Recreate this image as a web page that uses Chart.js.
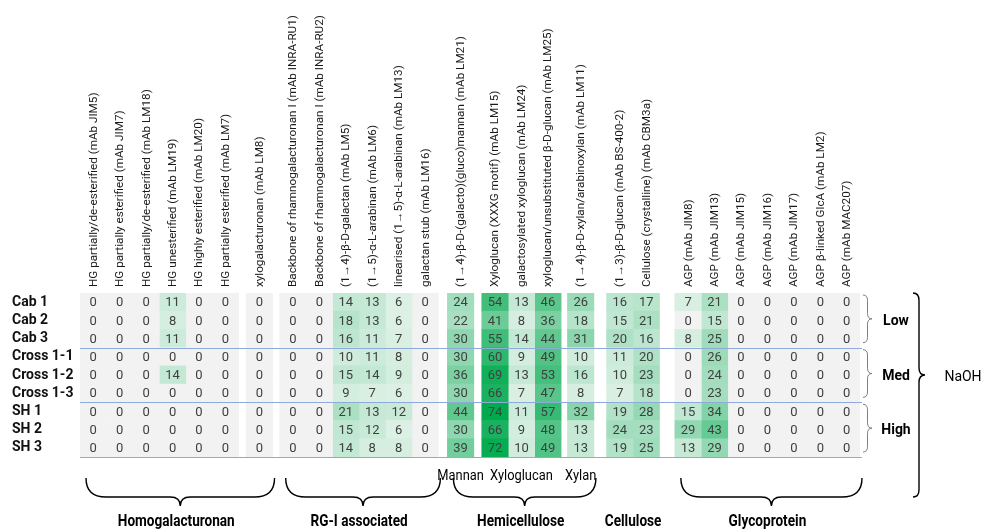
<!DOCTYPE html>
<html><head><meta charset="utf-8">
<script src="https://cdn.jsdelivr.net/npm/chart.js@4/dist/chart.umd.min.js"></script>
<style>html,body{margin:0;padding:0;background:#fff}#wrap{width:984px;height:532px;position:relative}</style>
</head><body><div id="wrap"><canvas id="c" width="984" height="532"></canvas></div>
<script>
// ---------------- data ----------------
const antibodies = [
  'HG partially/de-esterified (mAb JIM5)',
  'HG partially esterified (mAb JIM7)',
  'HG partially/de-esterified (mAb LM18)',
  'HG unesterified (mAb LM19)',
  'HG highly esterified (mAb LM20)',
  'HG partially esterified (mAb LM7)',
  'xylogalacturonan (mAb LM8)',
  'Backbone of rhamnogalacturonan I (mAb INRA-RU1)',
  'Backbone of rhamnogalacturonan I (mAb INRA-RU2)',
  '(1→4)-β-D-galactan (mAb LM5)',
  '(1→5)-α-L-arabinan (mAb LM6)',
  'linearised (1→5)-α-L-arabinan (mAb LM13)',
  'galactan stub (mAb LM16)',
  '(1→4)-β-D-(galacto)(gluco)mannan (mAb LM21)',
  'Xyloglucan (XXXG motif) (mAb LM15)',
  'galactosylated xyloglucan (mAb LM24)',
  'xyloglucan/unsubstituted β-D-glucan (mAb LM25)',
  '(1→4)-β-D-xylan/arabinoxylan (mAb LM11)',
  '(1→3)-β-D-glucan (mAb BS-400-2)',
  'Cellulose (crystalline) (mAb CBM3a)',
  'AGP (mAb JIM8)',
  'AGP (mAb JIM13)',
  'AGP (mAb JIM15)',
  'AGP (mAb JIM16)',
  'AGP (mAb JIM17)',
  'AGP β-linked GlcA (mAb LM2)',
  'AGP (mAb MAC207)'
];
const samples = ['Cab 1','Cab 2','Cab 3','Cross 1-1','Cross 1-2','Cross 1-3','SH 1','SH 2','SH 3'];

const cab1   = [0,0,0,11,0,0, 0, 0,0,14,13,6,0, 24, 54,13,46, 26, 16,17, 7,21,0,0,0,0,0];
const cab2   = [0,0,0, 8,0,0, 0, 0,0,18,13,6,0, 22, 41, 8,36, 18, 15,21, 0,15,0,0,0,0,0];
const cab3   = [0,0,0,11,0,0, 0, 0,0,16,11,7,0, 30, 55,14,44, 31, 20,16, 8,25,0,0,0,0,0];
const cross1 = [0,0,0, 0,0,0, 0, 0,0,10,11,8,0, 30, 60, 9,49, 10, 11,20, 0,26,0,0,0,0,0];
const cross2 = [0,0,0,14,0,0, 0, 0,0,15,14,9,0, 36, 69,13,53, 16, 10,23, 0,24,0,0,0,0,0];
const cross3 = [0,0,0, 0,0,0, 0, 0,0, 9, 7,6,0, 30, 66, 7,47,  8,  7,18, 0,23,0,0,0,0,0];
const sh1    = [0,0,0, 0,0,0, 0, 0,0,21,13,12,0, 44, 74,11,57, 32, 19,28, 15,34,0,0,0,0,0];
const sh2    = [0,0,0, 0,0,0, 0, 0,0,15,12,6,0, 30, 66, 9,48, 13, 24,23, 29,43,0,0,0,0,0];
const sh3    = [0,0,0, 0,0,0, 0, 0,0,14, 8,8,0, 39, 72,10,49, 13, 19,25, 13,29,0,0,0,0,0];
const rows = [cab1,cab2,cab3,cross1,cross2,cross3,sh1,sh2,sh3];

const blockSizes = [6,1,6,1,3,1,2,7];          // antibody blocks separated by white gaps
const polymerClasses = ['Homogalacturonan','RG-I associated','Hemicellulose','Cellulose','Glycoprotein'];
const classSizes = [7,6,5,2,7];
const classBrace = [true,true,true,false,true];
const hemiTypes = ['Mannan','Xyloglucan','Xylan'];
const hemiSizes = [1,3,1];
const naohLevels = ['Low','Med','High'];
const levelSizes = [3,3,3];
const treatment = 'NaOH';

// ---------------- layout / style ----------------
const BLOCK_GAPS = [0.28,0.27,0.34,0.3,0.24,0.48,0.58];
const colPos = [];
(function(){ let idx=0, off=0; blockSizes.forEach((n,b)=>{ for(let k=0;k<n;k++){ colPos.push(idx+off); idx++; } off += (BLOCK_GAPS[b]||0); }); })();
const VMAX = Math.max(...rows.flat());
function cellColor(v){
  if(!v) return '#f2f2f2';
  const t = v/VMAX, a=[240,246,242], b=[0,170,78];
  const c = a.map((s,i)=>Math.round(s+(b[i]-s)*t));
  return `rgb(${c[0]},${c[1]},${c[2]})`;
}
const FONT = "Roboto, 'Liberation Sans', sans-serif";

const datasets = antibodies.map((name,c)=>({
  label: name,
  data: rows.map(()=>[colPos[c]-0.5, colPos[c]+0.5]),
  values: rows.map(r=>r[c]),
  backgroundColor: rows.map(r=>cellColor(r[c])),
  borderWidth: 0, barPercentage: 1, categoryPercentage: 1, grouped: false
}));

function hBrace(ctx,x1,x2,y,h){
  const m=(x1+x2)/2, yh=y+h*0.68, r=Math.min(20,(x2-x1)/6), r2=10;
  ctx.beginPath(); ctx.moveTo(x1,y);
  ctx.quadraticCurveTo(x1,yh,x1+r,yh); ctx.lineTo(m-r2,yh);
  ctx.quadraticCurveTo(m,yh,m,y+h); ctx.quadraticCurveTo(m,yh,m+r2,yh);
  ctx.lineTo(x2-r,yh); ctx.quadraticCurveTo(x2,yh,x2,y); ctx.stroke();
}
function vBrace(ctx,x,y1,y2,w,ym){
  const xm=x+w*0.5, r=Math.max(4,w*0.6);
  ctx.beginPath(); ctx.moveTo(x,y1);
  ctx.quadraticCurveTo(xm,y1,xm,y1+r); ctx.lineTo(xm,ym-r);
  ctx.quadraticCurveTo(xm,ym,x+w,ym); ctx.quadraticCurveTo(xm,ym,xm,ym+r);
  ctx.lineTo(xm,y2-r); ctx.quadraticCurveTo(xm,y2,x,y2); ctx.stroke();
}
function narrowText(ctx,t,x,y,sx){
  ctx.save(); ctx.translate(x,y); ctx.scale(sx,1); ctx.fillText(t,0,0); ctx.restore();
}

const overlay = {
  id:'overlay',
  afterDatasetsDraw(chart){
    const ctx=chart.ctx, {left,right,top,bottom}=chart.chartArea;
    const xs=chart.scales.x, ys=chart.scales.y;
    ctx.save();
    // column labels (rotated)
    ctx.font='11.7px '+FONT; ctx.fillStyle='#1a1a1a'; ctx.textAlign='left'; ctx.textBaseline='middle';
    antibodies.forEach((t,i)=>{
      ctx.save(); ctx.translate(xs.getPixelForValue(colPos[i])+0.5, top-6); ctx.rotate(-Math.PI/2);
      ctx.fillText(t,0,0); ctx.restore();
    });
    // values
    ctx.font='13px '+FONT; ctx.fillStyle='#404040'; ctx.textAlign='center'; ctx.textBaseline='middle';
    chart.data.datasets.forEach((ds,di)=>{
      chart.getDatasetMeta(di).data.forEach((el,ri)=>{
        ctx.fillText(String(ds.values[ri]), (el.x+el.base)/2, el.y+1);
      });
    });
    // separators
    const rh = ys.getPixelForValue(1)-ys.getPixelForValue(0);
    ctx.strokeStyle='#8eaadb'; ctx.lineWidth=1;
    let acc=0;
    levelSizes.forEach(n=>{ acc+=n; const yb=Math.round(ys.getPixelForValue(acc-1)+rh/2)+0.5;
      ctx.beginPath(); ctx.moveTo(left,yb); ctx.lineTo(right+2,yb); ctx.stroke(); });
    // bottom braces & class labels
    ctx.strokeStyle='#000'; ctx.lineWidth=1.4;
    let s=0;
    polymerClasses.forEach((name,k)=>{
      const e=s+classSizes[k]-1;
      const x1=xs.getPixelForValue(colPos[s]-0.5), x2=xs.getPixelForValue(colPos[e]+0.5);
      if(classBrace[k]) hBrace(ctx,x1+6,x2+2,bottom+21,28);
      ctx.font='bold 16px '+FONT; ctx.fillStyle='#000'; ctx.textAlign='center'; ctx.textBaseline='middle';
      narrowText(ctx,name,(x1+x2)/2,bottom+65,0.85);
      if(name==='Hemicellulose'){
        let hs=s;
        ctx.font='14px '+FONT;
        hemiTypes.forEach((t,j)=>{
          const he=hs+hemiSizes[j]-1;
          const cx=(xs.getPixelForValue(colPos[hs])+xs.getPixelForValue(colPos[he]))/2;
          narrowText(ctx,t,cx,bottom+19,0.92); hs=he+1;
        });
      }
      s=e+1;
    });
    // right side: NaOH levels
    let r0=0;
    naohLevels.forEach((lv,k)=>{
      const r1=r0+levelSizes[k]-1;
      const y1=ys.getPixelForValue(r0)-rh/2+2, y2=ys.getPixelForValue(r1)+rh/2-5;
      ctx.strokeStyle='#7f7f7f'; ctx.lineWidth=1;
      vBrace(ctx,right+3,y1,y2,9,(y1+y2)/2);
      ctx.font='bold 14px '+FONT; ctx.fillStyle='#000'; ctx.textAlign='center';
      ctx.fillText(lv,right+36,(ys.getPixelForValue(r0)+ys.getPixelForValue(r1))/2+1);
      r0=r1+1;
    });
    ctx.strokeStyle='#000'; ctx.lineWidth=1.4;
    vBrace(ctx,right+53,top,bottom+40,12,(top+bottom)/2);
    ctx.font='14px '+FONT; ctx.fillStyle='#000'; ctx.textAlign='center';
    ctx.fillText(treatment,right+103,(top+bottom)/2+2);
    ctx.restore();
  }
};

new Chart(document.getElementById('c'),{
  type:'bar',
  data:{ labels: samples, datasets },
  options:{
    indexAxis:'y', responsive:false, animation:false,
    layout:{padding:{left:12,right:124,top:0,bottom:75}},
    plugins:{legend:{display:false}, tooltip:{enabled:false}},
    scales:{
      x:{ type:'linear', position:'top', min:colPos[0]-0.5, max:colPos[colPos.length-1]+0.5,
          grid:{display:false, drawTicks:false}, border:{display:false},
          afterBuildTicks:s=>{ s.ticks = colPos.map(v=>({value:v})); },
          afterFit:s=>{ s.height = 293; },
          ticks:{ display:false } },
      y:{ type:'category', offset:true, grid:{display:false, drawTicks:false}, border:{display:false},
          afterFit:s=>{ s.width = 68; },
          ticks:{ autoSkip:false, crossAlign:'far', padding:0, font:{family:FONT,size:14,weight:'bold'}, color:'#111' } }
    }
  },
  plugins:[overlay]
});
</script></body></html>
